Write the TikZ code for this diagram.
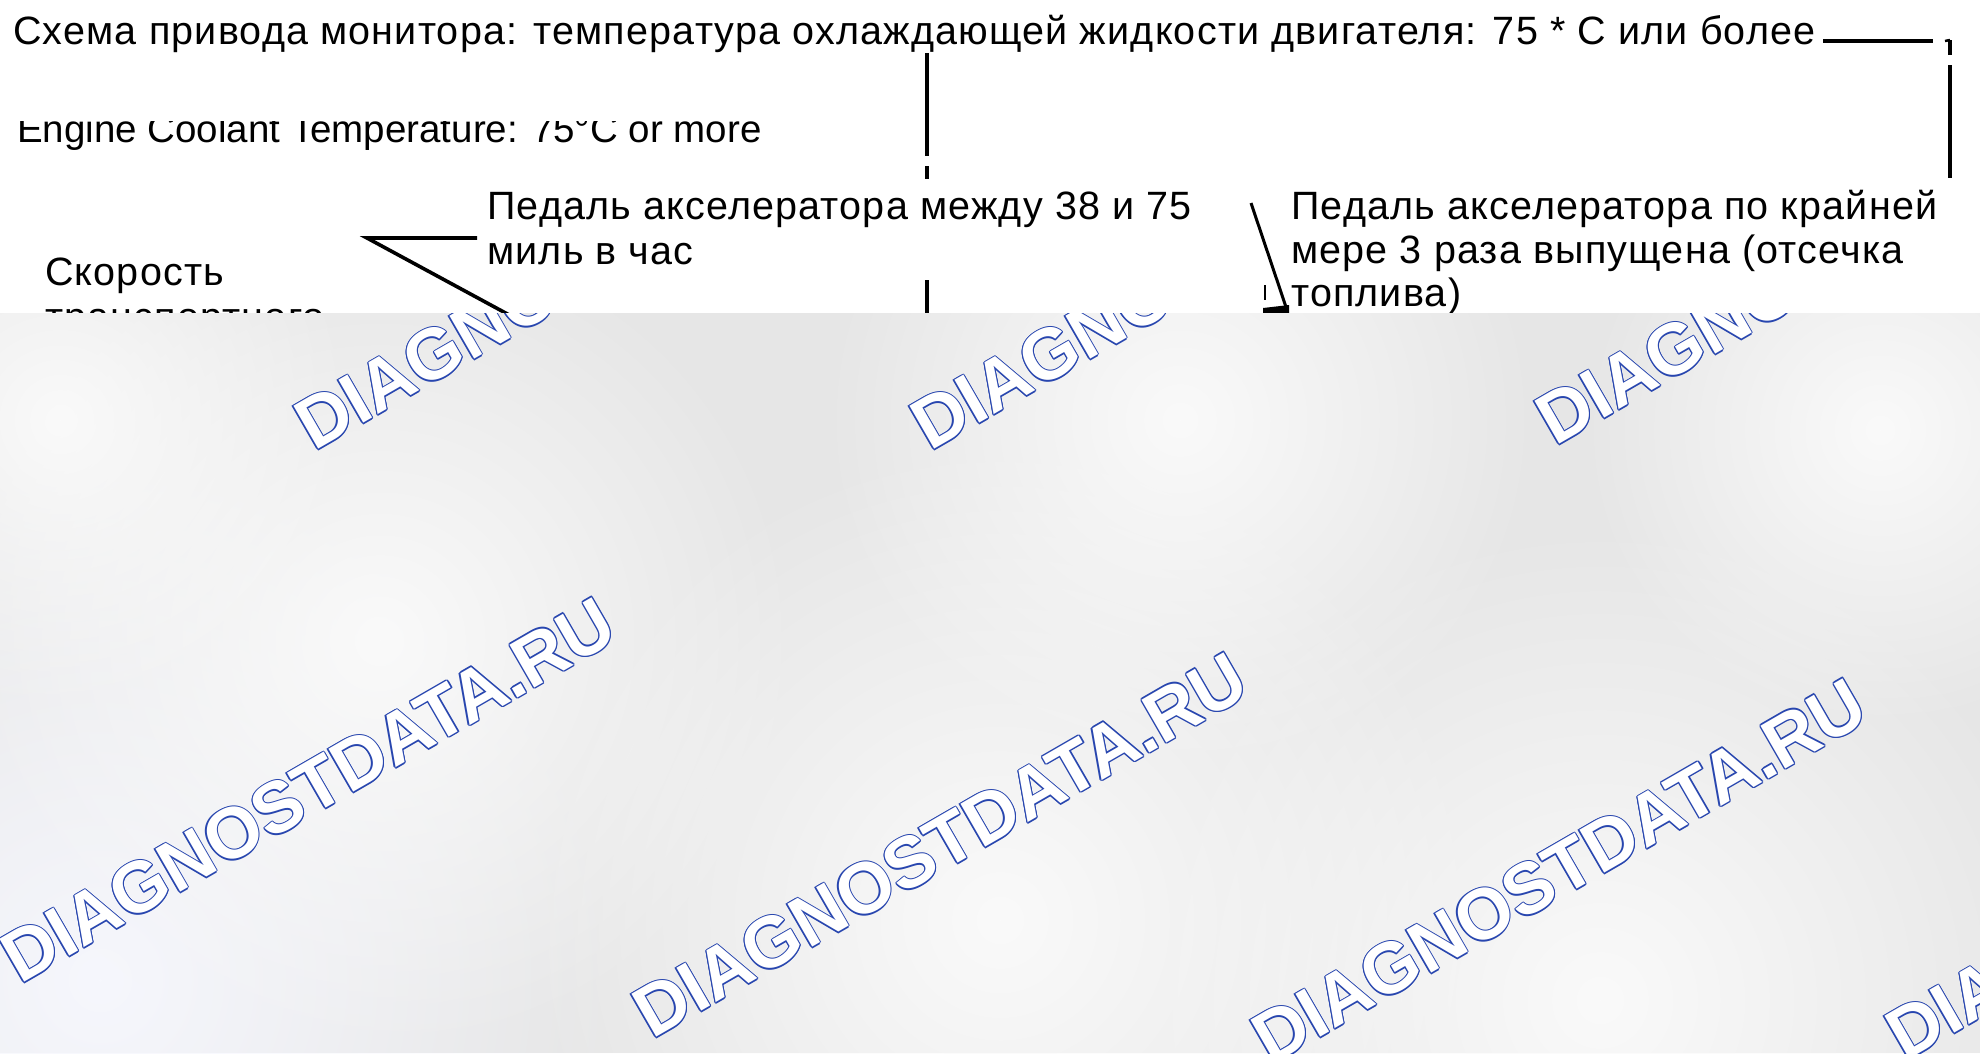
\documentclass[tikz,border=0pt]{standalone}
\usepackage{fontspec}
\setmainfont{Liberation Sans}
\newfontfamily\cyrfont{Liberation Sans}[LetterSpace=3.0]
\usetikzlibrary{fadings}
\definecolor{wmblue}{RGB}{40,70,175}
\definecolor{bggray}{RGB}{230,230,230}
\definecolor{lightA}{RGB}{246,247,253}
\definecolor{lightB}{RGB}{250,250,250}
\tikzfading[name=softblob, inner color=transparent!0, outer color=transparent!100]
\begin{document}
\begin{tikzpicture}[x=1pt,y=-1pt,
  lbl/.style={anchor=base west, inner sep=0pt, font=\cyrfont\fontsize{39.5}{44}\selectfont},
  lat/.style={anchor=base west, inner sep=0pt, font=\fontsize{38.5}{44}\selectfont},
  ln/.style={line width=3.6pt},
  wmtxt/.style={anchor=base west, inner sep=0pt, rotate=30, font=\fontsize{72}{80}\selectfont\bfseries}]
\useasboundingbox (0,0) rectangle (1980,1053);
\fill[white] (0,0) rectangle (1980,1053);
% texts
\node[lbl] (title) at (13,44) {Схема привода монитора: температура охлаждающей жидкости двигателя: 75 * С или более};
\node[lat] (engine) at (17,142) {Engine Coolant Temperature: 75°C or more};
\fill[white] (0,55) rectangle (1980,120.5);
\node[lbl] (speedA) at (45,285) {Скорость};
\node[lbl] (speedB) at (45,330) {транспортного};
\node[lbl] (accA) at (487,219) {Педаль акселератора между 38 и 75};
\node[lbl] (accB) at (487,264) {миль в час};
\node[lbl] (relA) at (1291,219) {Педаль акселератора по крайней};
\node[lbl] (relB) at (1291,263) {мере 3 раза выпущена (отсечка};
\node[lbl] (relC) at (1291,306) {топлива)};
% lines
\coordinate (t1) at (1823,41); \coordinate (t2) at (1933,41);
\draw[ln] (t1) -- (t2);
\coordinate (b0) at (1945,41); \coordinate (b1) at (1950,40);
\coordinate (b2) at (1950,55); \coordinate (b3) at (1950,65); \coordinate (b4) at (1950,178);
\draw[line width=2.5pt] (b0) -- (b1);
\draw[ln] (b1) -- (b2);
\draw[ln] (b3) -- (b4);
\coordinate (v1) at (927,53); \coordinate (v2) at (927,156);
\coordinate (v3) at (927,166); \coordinate (v4) at (927,179);
\coordinate (v5) at (927,280); \coordinate (v6) at (927,330);
\draw[ln] (v1) -- (v2);
\draw[ln] (v3) -- (v4);
\draw[ln] (v5) -- (v6);
\coordinate (p1) at (477,238); \coordinate (p2) at (367,238); \coordinate (p3) at (537,330);
\draw[ln] (p1) -- (p2) -- (p3);
\coordinate (r1) at (1251,203); \coordinate (r2) at (1287,310);
\draw[line width=3pt] (r1) -- (r2);
\coordinate (s1) at (1265,285); \coordinate (s2) at (1265,300);
\draw[line width=2.5pt] (s1) -- (s2);
\fill (1263,308) -- (1289,305) -- (1289,316) -- (1263,316) -- cycle;
% watermark area
\begin{scope}
\clip (0,313) rectangle (1980,1053);
\fill[bggray] (0,313) rectangle (1980,1053);
\fill[lightA, path fading=softblob] (100,980) circle (520);
\fill[lightB, path fading=softblob] (380,640) circle (420);
\fill[lightB, path fading=softblob] (1000,920) circle (480);
\fill[lightB, path fading=softblob] (1600,1000) circle (480);
\fill[lightB, path fading=softblob] (1180,420) circle (360);
\fill[lightB, path fading=softblob] (1880,430) circle (300);
\fill[lightB, path fading=softblob] (60,420) circle (300);
\foreach \wx/\wy [count=\k] in {314/452, 930/452, 1555/447, 20/985, 652/1040, 1271/1066, 1905/1062}{
  \foreach \dx/\dy [count=\j] in {1.3/0, -1.3/0, 0/1.3, 0/-1.3, 0.9/0.9, -0.9/0.9, 0.9/-0.9, -0.9/-0.9}
    \node[wmtxt, text=wmblue] (wm\k o\j) at (\wx+\dx,\wy+\dy) {DIAGNOSTDATA.RU};
  \node[wmtxt, text=white] (wm\k) at (\wx,\wy) {DIAGNOSTDATA.RU};
}
\end{scope}
\end{tikzpicture}
\end{document}
